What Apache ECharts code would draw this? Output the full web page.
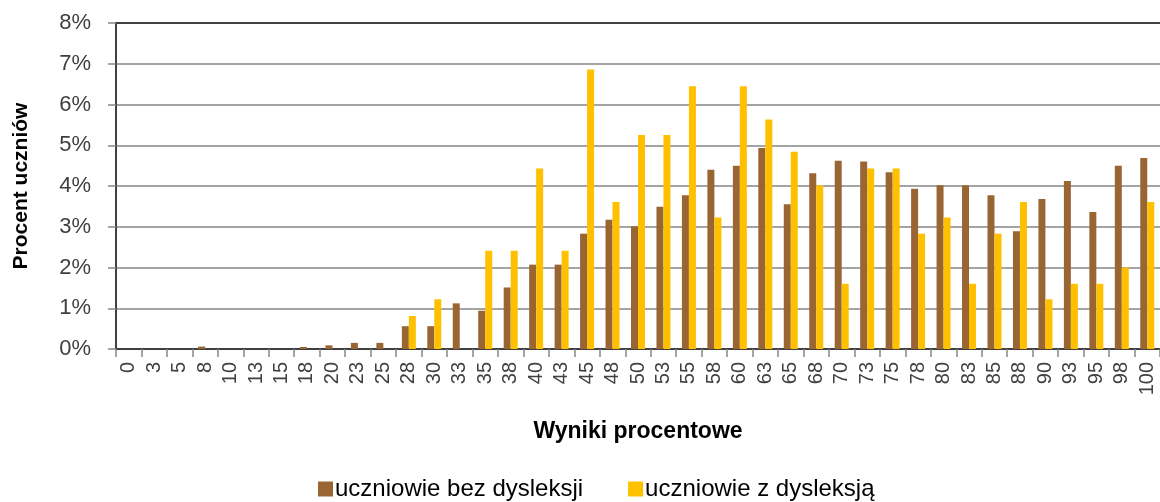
<!DOCTYPE html>
<html lang="pl">
<head>
	<meta charset="UTF-8">
	<title>Wyniki procentowe</title>
	<script src="https://cdn.jsdelivr.net/npm/echarts@6/dist/echarts.min.js"></script>
	<style>
		html, body { margin: 0; padding: 0; background: #fff; }
	</style>
</head>
<body>
	<div id="chart" style="width: 1160px;height: 502px;"></div>
	<script>
		var wyniki = ['0', '3', '5', '8', '10', '13', '15', '18', '20', '23', '25', '28', '30', '33', '35', '38', '40', '43', '45', '48',
			'50', '53', '55', '58', '60', '63', '65', '68', '70', '73', '75', '78', '80', '83', '85', '88', '90', '93', '95', '98', '100'];

		// procent uczniów bez dysleksji
		var bezDysleksji = [0, 0, 0, 0.06, 0, 0, 0, 0.05, 0.09, 0.15, 0.15, 0.56, 0.56, 1.12, 0.94, 1.51, 2.07, 2.07, 2.83, 3.17,
			3.01, 3.49, 3.77, 4.40, 4.50, 4.93, 3.55, 4.31, 4.62, 4.60, 4.34, 3.93, 4.02, 4.02, 3.77, 2.89, 3.68, 4.12, 3.36, 4.50, 4.69];

		// procent uczniów z dysleksją
		var zDysleksja = [0, 0, 0, 0, 0, 0, 0, 0, 0, 0, 0, 0.81, 1.22, 0, 2.41, 2.41, 4.43, 2.41, 6.86, 3.61,
			5.25, 5.25, 6.45, 3.23, 6.45, 5.63, 4.84, 4.02, 1.60, 4.43, 4.43, 2.83, 3.23, 1.60, 2.83, 3.61, 1.22, 1.60, 1.60, 2.00, 3.61];

		var font = 'Liberation Sans';
		var gridColors = ['#868686', '#868686', '#868686', '#868686', '#868686', '#868686', '#868686', '#868686', '#000000'];

		var option = {
			animation: false,
			textStyle: { fontFamily: font },
			grid: { left: 116, top: 23, right: -1, bottom: 153 },
			legend: {
				left: 313,
				top: 472,
				itemWidth: 15,
				itemHeight: 15,
				itemGap: 45,
				icon: 'rect',
				textStyle: { fontSize: 24, color: '#000', fontFamily: font, padding: [0, 0, 0, -3] },
				data: ['uczniowie bez dysleksji', 'uczniowie z dysleksją']
			},
			xAxis: {
				type: 'category',
				data: wyniki,
				name: 'Wyniki procentowe',
				nameLocation: 'middle',
				nameGap: 71,
				nameTextStyle: { fontSize: 23, fontWeight: 'bold', color: '#000' },
				axisLine: { lineStyle: { color: '#404040', width: 2 } },
				axisTick: { show: true, length: 8, lineStyle: { color: '#868686', width: 1.5 } },
				axisLabel: { rotate: 90, fontSize: 20, color: '#404040', margin: 13, interval: 0 }
			},
			yAxis: {
				type: 'value',
				min: 0,
				max: 8,
				interval: 1,
				name: 'Procent uczniów',
				nameLocation: 'middle',
				nameGap: 84,
				nameTextStyle: { fontSize: 21, fontWeight: 'bold', color: '#000' },
				axisLine: { show: true, lineStyle: { color: '#404040', width: 2 } },
				axisTick: { show: true, length: 8, lineStyle: { color: '#868686', width: 1.5 } },
				axisLabel: { formatter: '{value}%', fontSize: 22, color: '#404040', margin: 25 },
				splitLine: { lineStyle: { color: gridColors, width: 1.5 } }
			},
			series: [
				{
					name: 'uczniowie bez dysleksji',
					type: 'bar',
					data: bezDysleksji,
					barWidth: 7,
					barGap: '0%',
					itemStyle: { color: '#996633' }
				},
				{
					name: 'uczniowie z dysleksją',
					type: 'bar',
					data: zDysleksja,
					barWidth: 7,
					itemStyle: { color: '#FFC000' }
				}
			]
		};

		var myChart = echarts.init(document.getElementById('chart'));
		myChart.setOption(option);
	</script>
</body>
</html>
